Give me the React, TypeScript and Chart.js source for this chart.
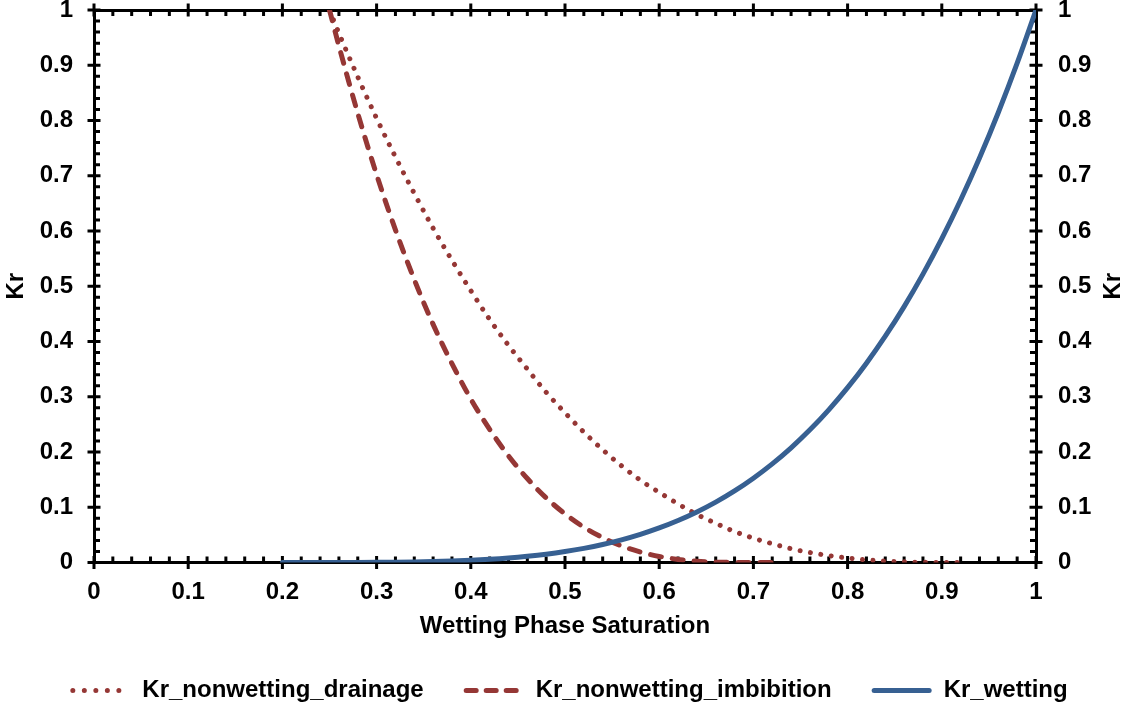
import { useEffect, useRef } from "react";
import { Chart, registerables } from "chart.js";

Chart.register(...registerables);

const seriesLabels = ["Kr_nonwetting_drainage", "Kr_nonwetting_imbibition", "Kr_wetting"];
const xTitle = "Wetting Phase Saturation";
const yTitle = "Kr";
const xTickLabels = ["0", "0.1", "0.2", "0.3", "0.4", "0.5", "0.6", "0.7", "0.8", "0.9", "1"];
const yTickLabels = ["0", "0.1", "0.2", "0.3", "0.4", "0.5", "0.6", "0.7", "0.8", "0.9", "1"];

const drainageS = [0.25, 0.26, 0.28, 0.30, 0.32, 0.34, 0.36, 0.38, 0.40, 0.42, 0.44, 0.46, 0.48, 0.50, 0.52, 0.54, 0.56, 0.58, 0.60, 0.62, 0.64, 0.66, 0.68, 0.70, 0.72, 0.74, 0.76, 0.78, 0.80, 0.82, 0.84, 0.86, 0.88, 0.90, 0.92];
const drainageKr = [1.0, 0.958, 0.879, 0.804, 0.734, 0.668, 0.605, 0.547, 0.492, 0.440, 0.393, 0.350, 0.308, 0.271, 0.236, 0.204, 0.175, 0.149, 0.127, 0.106, 0.087, 0.071, 0.056, 0.044, 0.034, 0.025, 0.018, 0.0125, 0.0081, 0.0048, 0.0026, 0.0012, 0.0004, 0.0001, 0];

const imbibitionS = [0.25, 0.26, 0.28, 0.30, 0.32, 0.34, 0.36, 0.38, 0.40, 0.42, 0.44, 0.46, 0.48, 0.50, 0.52, 0.54, 0.56, 0.58, 0.60, 0.62, 0.64, 0.66, 0.68, 0.70, 0.72];
const imbibitionKr = [1.0, 0.935, 0.813, 0.702, 0.602, 0.512, 0.431, 0.360, 0.296, 0.241, 0.193, 0.152, 0.117, 0.088, 0.064, 0.045, 0.030, 0.019, 0.011, 0.0056, 0.0024, 0.0007, 0.0001, 0, 0];

const wettingS = [0.20, 0.22, 0.24, 0.26, 0.28, 0.30, 0.32, 0.34, 0.36, 0.38, 0.40, 0.42, 0.44, 0.46, 0.48, 0.50, 0.52, 0.54, 0.56, 0.58, 0.60, 0.62, 0.64, 0.66, 0.68, 0.70, 0.72, 0.74, 0.76, 0.78, 0.80, 0.82, 0.84, 0.86, 0.88, 0.90, 0.92, 0.94, 0.96, 0.98, 1.00];
const wettingKr = [0, 0, 0.00001, 0.00003, 0.0001, 0.00024, 0.0005, 0.00094, 0.0016, 0.00256, 0.0039, 0.0057, 0.0081, 0.0112, 0.0150, 0.0198, 0.0256, 0.0326, 0.0410, 0.0509, 0.0625, 0.0760, 0.0915, 0.1093, 0.1296, 0.1526, 0.1785, 0.2076, 0.2401, 0.2763, 0.3164, 0.3608, 0.4096, 0.4632, 0.5220, 0.5862, 0.6561, 0.7321, 0.8145, 0.9037, 1.0];

const RED = "#953735";
const BLUE = "#376092";
const FAMILY = "'Liberation Sans', Arial, Helvetica, sans-serif";
const FONT_SIZE = 24;

const styles = [
  { color: RED, width: 5, dash: [0.01, 10.5], legendDash: [0.01, 11.5] },
  { color: RED, width: 5, dash: [11, 11], legendDash: [10, 10] },
  { color: BLUE, width: 5, dash: [] as number[], legendDash: [] as number[] },
];

const pts = (xs: number[], ys: number[]) => xs.map((x, i) => ({ x, y: ys[i] }));

const axisTicksPlugin = {
  id: "axisTicks",
  beforeDatasetsDraw(chart: any) {
    const { ctx, chartArea: ca, scales } = chart;
    const xs = scales.x;
    const ys = scales.y;
    ctx.save();
    ctx.strokeStyle = "#000";
    ctx.lineCap = "butt";
    ctx.lineWidth = 3;
    for (let i = 0; i <= 50; i++) {
      const v = i / 50;
      const major = i % 5 === 0;
      const px = xs.getPixelForValue(v);
      const py = ys.getPixelForValue(v);
      ctx.beginPath();
      if (major) {
        ctx.moveTo(px, ca.bottom - 6.5); ctx.lineTo(px, ca.bottom + 6.5);
        ctx.moveTo(px, ca.top - 6.5); ctx.lineTo(px, ca.top + 6.5);
        ctx.moveTo(ca.left - 6.5, py); ctx.lineTo(ca.left + 6.5, py);
        ctx.moveTo(ca.right - 6.5, py); ctx.lineTo(ca.right + 6.5, py);
      } else {
        ctx.moveTo(px, ca.bottom); ctx.lineTo(px, ca.bottom - 6);
        ctx.moveTo(px, ca.top); ctx.lineTo(px, ca.top + 6);
        ctx.moveTo(ca.left, py); ctx.lineTo(ca.left + 6, py);
        ctx.moveTo(ca.right, py); ctx.lineTo(ca.right - 6, py);
      }
      ctx.stroke();
    }
    ctx.restore();
  },
};

const legendPlugin = {
  id: "customLegend",
  afterDraw(chart: any) {
    const { ctx, chartArea: ca } = chart;
    ctx.save();
    ctx.font = `bold ${FONT_SIZE}px ${FAMILY}`;
    ctx.fillStyle = "#000";
    ctx.textBaseline = "middle";
    ctx.textAlign = "left";
    // right axis title
    ctx.save();
    ctx.translate(1113, (ca.top + ca.bottom) / 2);
    ctx.rotate(-Math.PI / 2);
    ctx.textAlign = "center";
    ctx.fillText(yTitle, 0, 0);
    ctx.restore();

    const sampleW = 60;
    const gapT = 12;
    const gapI = 40;
    const widths = seriesLabels.map((l) => ctx.measureText(l).width);
    const total = widths.reduce((a, b) => a + b, 0) + seriesLabels.length * (sampleW + gapT) + gapI * (seriesLabels.length - 1);
    let x = chart.width / 2 - total / 2 + 4;
    const y = chart.height - 20.5;
    seriesLabels.forEach((label, i) => {
      const s = styles[i];
      ctx.save();
      ctx.strokeStyle = s.color;
      ctx.lineWidth = s.width;
      ctx.lineCap = "round";
      ctx.setLineDash(s.legendDash);
      ctx.beginPath();
      ctx.moveTo(x + 2.5, y);
      ctx.lineTo(x + sampleW - 2.5, y);
      ctx.stroke();
      ctx.restore();
      ctx.fillText(label, x + sampleW + gapT, y);
      x += sampleW + gapT + widths[i] + gapI;
    });
    ctx.restore();
  },
};

export default function App() {
  const canvasRef = useRef<HTMLCanvasElement | null>(null);

  useEffect(() => {
    if (!canvasRef.current) return;
    const font = { family: FAMILY, size: FONT_SIZE, weight: "bold" as const };
    const chart = new Chart(canvasRef.current, {
      type: "line",
      data: {
        datasets: [
          {
            label: seriesLabels[0],
            data: pts(drainageS, drainageKr),
            borderColor: styles[0].color,
            borderWidth: styles[0].width,
            borderDash: styles[0].dash,
            borderCapStyle: "round",
            pointRadius: 0,
            fill: false,
            cubicInterpolationMode: "monotone",
            order: 2,
          },
          {
            label: seriesLabels[1],
            data: pts(imbibitionS, imbibitionKr),
            borderColor: styles[1].color,
            borderWidth: styles[1].width,
            borderDash: styles[1].dash,
            borderCapStyle: "round",
            pointRadius: 0,
            fill: false,
            cubicInterpolationMode: "monotone",
            order: 1,
          },
          {
            label: seriesLabels[2],
            data: pts(wettingS, wettingKr),
            borderColor: styles[2].color,
            borderWidth: styles[2].width,
            borderCapStyle: "round",
            pointRadius: 0,
            fill: false,
            cubicInterpolationMode: "monotone",
            order: 0,
          },
        ],
      },
      options: {
        animation: false,
        responsive: true,
        maintainAspectRatio: false,
        layout: { padding: 0 },
        plugins: {
          legend: { display: false },
          tooltip: { enabled: false },
        },
        scales: {
          x: {
            type: "linear",
            position: "bottom",
            min: 0,
            max: 1,
            ticks: {
              stepSize: 0.1,
              color: "#000",
              font,
              padding: 15,
              maxRotation: 0,
              callback: (_v: any, i: number) => xTickLabels[i],
            },
            grid: { display: true, drawOnChartArea: false, drawTicks: false },
            border: { display: true, color: "#000", width: 3 },
            title: { display: true, text: xTitle, color: "#000", font, padding: { top: 0, bottom: 70 } },
            afterFit: (s: any) => {
              s.height = 148.5;
              s.paddingLeft = 0;
              s.paddingRight = 0;
            },
          },
          x2: {
            type: "linear",
            position: "top",
            min: 0,
            max: 1,
            display: true,
            ticks: { display: false, stepSize: 0.1 },
            grid: { display: true, drawOnChartArea: false, drawTicks: false },
            border: { display: true, color: "#000", width: 3 },
            afterFit: (s: any) => {
              s.height = 10;
              s.paddingLeft = 0;
              s.paddingRight = 0;
            },
          },
          y: {
            type: "linear",
            position: "left",
            min: 0,
            max: 1,
            ticks: {
              stepSize: 0.1,
              color: "#000",
              font,
              padding: 21,
              callback: (_v: any, i: number) => yTickLabels[i],
            },
            grid: { display: true, drawOnChartArea: false, drawTicks: false },
            border: { display: true, color: "#000", width: 3 },
            title: { display: true, text: yTitle, color: "#000", font, padding: { top: 2, bottom: 0 } },
            afterFit: (s: any) => {
              s.width = 94;
              s.paddingTop = 0;
              s.paddingBottom = 0;
            },
          },
          y2: {
            type: "linear",
            position: "right",
            min: 0,
            max: 1,
            display: true,
            ticks: {
              stepSize: 0.1,
              color: "#000",
              font,
              padding: 22,
              callback: (_v: any, i: number) => yTickLabels[i],
            },
            grid: { display: true, drawOnChartArea: false, drawTicks: false },
            border: { display: true, color: "#000", width: 3 },
            afterFit: (s: any) => {
              s.width = 94;
              s.paddingTop = 0;
              s.paddingBottom = 0;
            },
          },
        },
      } as any,
      plugins: [axisTicksPlugin, legendPlugin],
    });
    return () => chart.destroy();
  }, []);

  return (
    <div style={{ position: "absolute", left: 0, top: 0, width: 1130, height: 711, background: "#fff" }}>
      <canvas ref={canvasRef} />
    </div>
  );
}
